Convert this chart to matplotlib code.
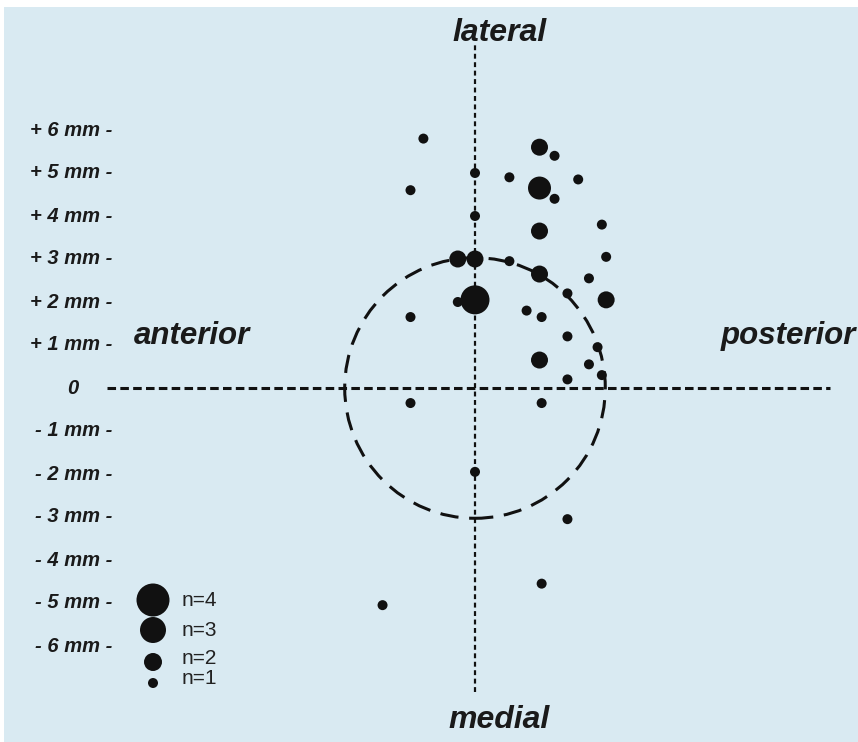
import matplotlib.pyplot as plt
from matplotlib.patches import Circle, Rectangle

# posiciones (mm) de los casos y numero de casos por punto
x_mm = [-1.2, -1.5, 0.0, 0.8, 1.5, 1.85, 1.5, 1.85, 2.4, 0.0, 2.95, 1.5,
        -0.4, 0.0, 0.8, 3.05, 1.5, 2.65, 2.15, 0.0, -0.4, 3.05, -1.5, 1.2,
        1.55, 2.15, 2.85, 1.5, 2.65, 2.95, 2.15, -1.5, 1.55, 0.0, 2.15,
        1.55, -2.15]
y_mm = [5.8, 4.6, 5.0, 4.9, 5.6, 5.4, 4.65, 4.4, 4.85, 4.0, 3.8, 3.65,
        3.0, 3.0, 2.95, 3.05, 2.65, 2.55, 2.2, 2.05, 2.0, 2.05, 1.65, 1.8,
        1.65, 1.2, 0.95, 0.65, 0.55, 0.3, 0.2, -0.35, -0.35, -1.95, -3.05,
        -4.55, -5.05]
n_casos = [1, 1, 1, 1, 2, 1, 3, 1, 1, 1, 1, 2,
           2, 2, 1, 1, 2, 1, 1, 4, 1, 2, 1, 1,
           1, 1, 1, 2, 1, 1, 1, 1, 1, 1, 1,
           1, 1]

tick_vals = [6, 5, 4, 3, 2, 1, -1, -2, -3, -4, -5, -6]
tick_labels = ["+ 6 mm -", "+ 5 mm -", "+ 4 mm -", "+ 3 mm -", "+ 2 mm -",
               "+ 1 mm -", "- 1 mm -", "- 2 mm -", "- 3 mm -", "- 4 mm -",
               "- 5 mm -", "- 6 mm -"]
leyenda_n = [4, 3, 2, 1]

bg = "#d9eaf2"
W, H = 858, 742
px = 43.0          # pixeles por mm
x0, y0 = 475, 388  # origen en pixeles

fig = plt.figure(figsize=(W / 100, H / 100), dpi=100, facecolor=bg)
# borde blanco arriba y a la izquierda
fig.patches.append(Rectangle((0, 0), 4 / W, 1, transform=fig.transFigure,
                             fc="white", ec="none"))
fig.patches.append(Rectangle((0, (H - 7) / H), 1, 7 / H,
                             transform=fig.transFigure, fc="white", ec="none"))

ax = fig.add_axes([4 / W, 0, (W - 4) / W, (H - 7) / H])
ax.set_facecolor(bg)
ax.set_xlim((4 - x0) / px, (W - x0) / px)
ax.set_ylim((y0 - H) / px, (y0 - 7) / px)
ax.set_xticks([])
ax.set_yticks([])
for s in ax.spines.values():
    s.set_visible(False)

def diam(n):
    return {1: 10, 2: 17, 3: 23, 4: 29}[n]

# ejes punteados
ax.plot([0, 0], [-7.07, 7.98], color="#111111", lw=1.6,
        dashes=(2.2, 1.6), zorder=2)
ax.plot([-8.56, 8.26], [0, 0], color="#111111", lw=2.2,
        dashes=(2.8, 1.4), zorder=2)

# circulo de 3 mm
ax.add_patch(Circle((0, 0), 3.03, fill=False, ec="#111111", lw=2.2,
                    ls=(0, (6, 3.5)), zorder=2))

# puntos
sizes = [(diam(n) * 0.72) ** 2 for n in n_casos]
ax.scatter(x_mm, y_mm, s=sizes, color="#111111", edgecolors="none", zorder=3)

# etiquetas del eje
lab_font = dict(family="Liberation Sans", fontweight="bold", style="italic",
                color="#1a1a1a")
for v, t in zip(tick_vals, tick_labels):
    ax.text((112 - x0) / px, v, t, ha="right", va="center", fontsize=14.5,
            **lab_font)
ax.text((73 - x0) / px, 0, "0", ha="center", va="center", fontsize=14.5,
        **lab_font)

ax.text((500 - x0) / px, (y0 - 33) / px, "lateral", ha="center",
        va="center", fontsize=23, **lab_font)
ax.text((499 - x0) / px, (y0 - 720) / px, "medial", ha="center",
        va="center", fontsize=23, **lab_font)
ax.text((192 - x0) / px, (y0 - 336) / px, "anterior", ha="center",
        va="center", fontsize=22.5, **lab_font)
ax.text((788 - x0) / px, (y0 - 336) / px, "posterior", ha="center",
        va="center", fontsize=22.5, **lab_font)

# leyenda
ley_d = {4: 33, 3: 26, 2: 18, 1: 10}
ley_y = {4: 600, 3: 630, 2: 662, 1: 683}
ley_ty = {4: 601, 3: 631, 2: 659, 1: 678}
for n in leyenda_n:
    ax.scatter([(153 - x0) / px], [(y0 - ley_y[n]) / px],
               s=(ley_d[n] * 0.72) ** 2, color="#111111",
               edgecolors="none", zorder=3)
    ax.text((182 - x0) / px, (y0 - ley_ty[n]) / px, "n=%d" % n,
            ha="left", va="center", fontsize=15, family="Liberation Sans",
            color="#222222")

fig.savefig("out.png", dpi=100, facecolor=bg)
